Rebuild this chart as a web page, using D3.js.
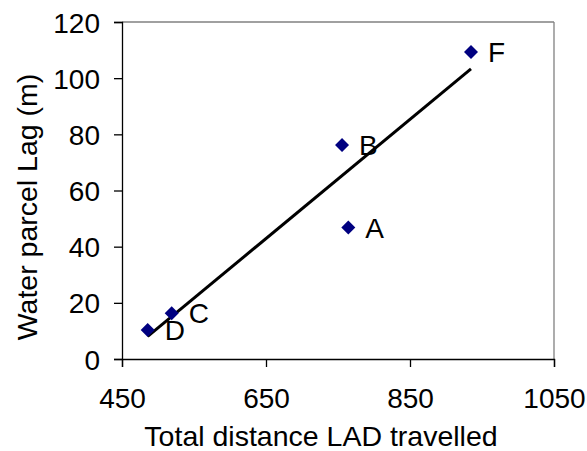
<!DOCTYPE html>
<html><head><meta charset="utf-8">
<script src="https://cdn.jsdelivr.net/npm/d3@7"></script>
<style>body{margin:0;background:#fff}svg{display:block}text{font-family:"Liberation Sans",Arial,sans-serif}</style>
</head><body>
<svg id="c" width="587" height="451"></svg>
<script>
const labels = ["D","C","B","A","F"];
const xVals = [485.7, 519, 755.6, 764.3, 934.7];
const yVals = [10.3, 16.3, 76.2, 46.8, 109.3];
const xTicks = [450, 650, 850, 1050];
const yTicks = [0, 20, 40, 60, 80, 100, 120];
const xTitle = "Total distance LAD travelled";
const yTitle = "Water parcel Lag (m)";

const svg = d3.select("#c");
const L = 122, R = 554, T = 22, B = 359;
const x = d3.scaleLinear().domain([450, 1050]).range([L, R]);
const y = d3.scaleLinear().domain([0, 120]).range([B, T]);
const fs = 28, tfs = 28.5;

// plot frame (top/right gray)
svg.append("line").attr("x1", L).attr("x2", R).attr("y1", T).attr("y2", T).attr("stroke", "#808080").attr("stroke-width", 1.3);
svg.append("line").attr("x1", R).attr("x2", R).attr("y1", T).attr("y2", B).attr("stroke", "#808080").attr("stroke-width", 1.3);

// axes
const xa = svg.append("g").attr("transform", `translate(0,${B})`)
  .call(d3.axisBottom(x).tickValues(xTicks).tickSize(8).tickPadding(21).tickFormat(d3.format("d")));
const ya = svg.append("g").attr("transform", `translate(${L},0)`)
  .call(d3.axisLeft(y).tickValues(yTicks).tickSize(8).tickPadding(14).tickFormat(d3.format("d")));
[xa, ya].forEach(a => {
  a.select(".domain").attr("stroke", "#000").attr("stroke-width", 1.3);
  a.selectAll(".tick line").attr("stroke", "#000").attr("stroke-width", 1.3);
  a.selectAll("text").attr("font-size", fs).attr("fill", "#000").attr("font-family", '"Liberation Sans",Arial,sans-serif');
});
ya.selectAll("text").attr("dy", "0.36em");

// regression trendline
const mx = d3.mean(xVals), my = d3.mean(yVals);
const sxy = d3.sum(xVals, (v, i) => (v - mx) * (yVals[i] - my));
const sxx = d3.sum(xVals, v => (v - mx) ** 2);
const slope = sxy / sxx, icpt = my - slope * mx;
const x0 = d3.min(xVals), x1 = d3.max(xVals);
svg.append("line")
  .attr("x1", x(x0)).attr("y1", y(slope * x0 + icpt))
  .attr("x2", x(x1)).attr("y2", y(slope * x1 + icpt))
  .attr("stroke", "#000").attr("stroke-width", 3);

// points
const sym = d3.symbol().type(d3.symbolSquare).size(98);
svg.selectAll("path.pt").data(xVals).join("path").attr("class", "pt")
  .attr("d", sym)
  .attr("transform", (d, i) => `translate(${x(d)},${y(yVals[i])}) rotate(45)`)
  .attr("fill", "#000080");

svg.selectAll("text.lbl").data(labels).join("text").attr("class", "lbl")
  .attr("x", (d, i) => x(xVals[i]) + 17)
  .attr("y", (d, i) => y(yVals[i]) + 10)
  .attr("font-size", fs).attr("fill", "#000").text(d => d);

// titles
svg.append("text").attr("x", 321).attr("y", 446).attr("text-anchor", "middle")
  .attr("font-size", tfs).text(xTitle);
svg.append("text").attr("transform", `translate(36.5,207) rotate(-90)`).attr("text-anchor", "middle")
  .attr("font-size", tfs).text(yTitle);
</script>
</body></html>
